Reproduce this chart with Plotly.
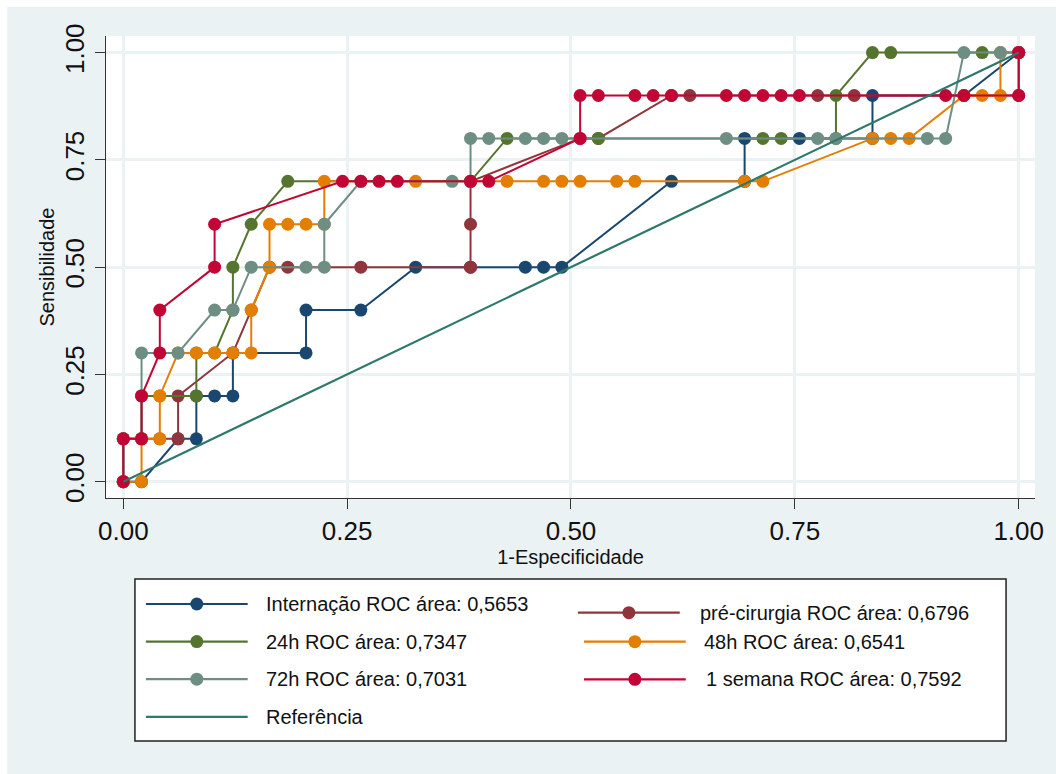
import plotly.graph_objects as go

# ---------------- data (1-specificity, sensitivity) ----------------
series_names = [
    "Internação ROC área: 0,5653",
    "pré-cirurgia ROC área: 0,6796",
    "24h ROC área: 0,7347",
    " 48h ROC área: 0,6541",
    "72h ROC área: 0,7031",
    " 1 semana ROC área: 0,7592",
]
ref_name = "Referência"

internacao_x = [0, .0204, .0612, .0816, .0816, .1020, .1224, .1224, .2041, .2041, .2653, .3265,
                .3878, .4490, .4694, .4898, .6122, .6939, .6939, .7551, .8367, .8367, .9388, 1]
internacao_y = [0, 0, .1, .1, .2, .2, .2, .3, .3, .4, .4, .5,
                .5, .5, .5, .5, .7, .7, .8, .8, .8, .9, .9, 1]

precir_x = [0, 0, .0204, .0408, .0612, .0612, .1224, .1429, .1633, .1837, .2653, .3878, .3878,
            .3878, .5102, .5306, .6122, .6327, .7755, .8163, 1, 1]
precir_y = [0, .1, .1, .1, .1, .2, .3, .4, .5, .5, .5, .5, .6,
            .7, .8, .8, .9, .9, .9, .9, .9, 1]

h24_x = [0, 0, .0204, .0204, .0408, .0816, .0816, .1020, .1224, .1224, .1429, .1837, .3878,
         .4286, .5306, .7143, .7347, .7959, .7959, .8367, .8571, .9592, 1]
h24_y = [0, .1, .1, .2, .2, .2, .3, .3, .4, .5, .6, .7, .7,
         .8, .8, .8, .8, .8, .9, 1, 1, 1, 1]

h48_x = [0, .0204, .0204, .0408, .0408, .0612, .0816, .1020, .1224, .1429, .1429, .1633, .1633,
         .1837, .2041, .2245, .2245, .3265, .4286, .4694, .4898, .5102, .5510, .5714, .6939,
         .7143, .8367, .8571, .8776, .9388, .9592, .9796, .9796, 1]
h48_y = [0, 0, .1, .1, .2, .3, .3, .3, .3, .3, .4, .5, .6,
         .6, .6, .6, .7, .7, .7, .7, .7, .7, .7, .7, .7,
         .7, .8, .8, .8, .9, .9, .9, 1, 1]

h72_x = [0, 0, .0204, .0204, .0204, .0612, .1020, .1224, .1429, .2041, .2245, .2245, .2653,
         .3673, .3878, .3878, .4082, .4490, .4694, .4898, .6735, .7755, .7959, .8980, .9184,
         .9388, .9796, 1]
h72_y = [0, .1, .1, .2, .3, .3, .4, .4, .5, .5, .5, .6, .7,
         .7, .7, .8, .8, .8, .8, .8, .8, .8, .8, .8, .8,
         1, 1, 1]

sem1_x = [0, 0, .0204, .0204, .0408, .0408, .1020, .1020, .2449, .2653, .2857, .3061, .3878,
          .4082, .5102, .5102, .5306, .5714, .5918, .6122, .6735, .6939, .7143, .7347, .7551,
          .9184, .9388, 1, 1]
sem1_y = [0, .1, .1, .2, .3, .4, .5, .6, .7, .7, .7, .7, .7,
          .7, .8, .9, .9, .9, .9, .9, .9, .9, .9, .9, .9,
          .9, .9, .9, 1]

ref_x = [0, 1]
ref_y = [0, 1]

tick_vals = [0, 0.25, 0.5, 0.75, 1]
tick_text = ["0.00", "0.25", "0.50", "0.75", "1.00"]

# ---------------- styling ----------------
colors = ["#1a476f", "#90353b", "#55752f", "#e37e00", "#6e8e84", "#c10534"]
ref_color = "#2e786c"
bg = "#eaf2f3"
FONT = "Liberation Sans, Arial, sans-serif"

xs = [internacao_x, precir_x, h24_x, h48_x, h72_x, sem1_x]
ys = [internacao_y, precir_y, h24_y, h48_y, h72_y, sem1_y]

fig = go.Figure()
for name, x, y, c in zip(series_names, xs, ys, colors):
    fig.add_trace(go.Scatter(x=x, y=y, mode="lines+markers", name=name,
                             line=dict(color=c, width=2),
                             marker=dict(color=c, size=13, line=dict(width=0)),
                             showlegend=False))
fig.add_trace(go.Scatter(x=ref_x, y=ref_y, mode="lines", name=ref_name,
                         line=dict(color=ref_color, width=2.2), showlegend=False))

# plot region in pixels
L, R, T, B = 106, 1037, 36, 498
W, H = R - L, B - T
def px(v):
    return (v - L) / W
def py(v):
    return (B - v) / H

shapes = [
    # white outer strips (top & left)
    dict(type="rect", xref="paper", yref="paper", x0=px(-10), x1=px(1070), y0=py(7), y1=py(-10),
         fillcolor="white", line=dict(width=0)),
    dict(type="rect", xref="paper", yref="paper", x0=px(-10), x1=px(7), y0=py(790), y1=py(-10),
         fillcolor="white", line=dict(width=0)),
    # legend box
    dict(type="rect", xref="paper", yref="paper", x0=px(135), x1=px(1008), y0=py(741), y1=py(579),
         fillcolor="white", line=dict(color="#222222", width=1.5)),
]
annotations = []

# legend layout: (label, color, row y, line x0, line x1, text x, is_marker)
legend_items = [
    (series_names[0], colors[0], 604, 146, 248, 264, True),
    (series_names[2], colors[2], 641.6, 146, 248, 264, True),
    (series_names[4], colors[4], 679.2, 146, 248, 264, True),
    (ref_name, ref_color, 716.8, 146, 248, 264, False),
    (series_names[1].strip(), colors[1], 612.7, 579, 681, 699, True),
    (series_names[3].strip(), colors[3], 641.7, 585, 687, 703, True),
    (series_names[5].strip(), colors[5], 679.3, 585, 687, 705, True),
]
rad = 6.5
for lab, c, yy, lx0, lx1, tx, mk in legend_items:
    shapes.append(dict(type="line", xref="paper", yref="paper", x0=px(lx0), x1=px(lx1),
                       y0=py(yy), y1=py(yy), line=dict(color=c, width=2.2)))
    if mk:
        cx = (lx0 + lx1) / 2
        shapes.append(dict(type="circle", xref="paper", yref="paper",
                           x0=px(cx - rad), x1=px(cx + rad), y0=py(yy + rad), y1=py(yy - rad),
                           fillcolor=c, line=dict(width=0)))
    annotations.append(dict(xref="paper", yref="paper", x=px(tx), y=py(yy), text=lab,
                            showarrow=False, xanchor="left", yanchor="middle",
                            font=dict(family=FONT, size=20, color="#111111")))

fig.update_layout(
    width=1056, height=774,
    margin=dict(l=L, r=1056 - R, t=T, b=774 - B, pad=0),
    paper_bgcolor=bg, plot_bgcolor="white",
    font=dict(family=FONT, color="#111111"),
    shapes=shapes, annotations=annotations,
    showlegend=False,
    xaxis=dict(range=[-0.0193, 1.0182], tickvals=tick_vals, ticktext=tick_text,
               showgrid=True, gridcolor=bg, gridwidth=2.5, zeroline=False,
               showline=True, linecolor="#333333", linewidth=1.3,
               ticks="outside", ticklen=10, tickwidth=1.3, tickcolor="#333333",
               tickfont=dict(family=FONT, size=26, color="#111111"),
               title=dict(text="1-Especificidade", font=dict(family=FONT, size=20, color="#111111"),
                          standoff=2)),
    yaxis=dict(range=[-0.038, 1.0387], tickvals=tick_vals, ticktext=tick_text, tickangle=-90,
               showgrid=True, gridcolor=bg, gridwidth=2.5, zeroline=False,
               showline=True, linecolor="#333333", linewidth=1.3,
               ticks="outside", ticklen=10, tickwidth=1.3, tickcolor="#333333",
               tickfont=dict(family=FONT, size=26, color="#111111"),
               title=dict(text="Sensibilidade", font=dict(family=FONT, size=20, color="#111111"),
                          standoff=0)),
)

fig.write_html("out.html")
